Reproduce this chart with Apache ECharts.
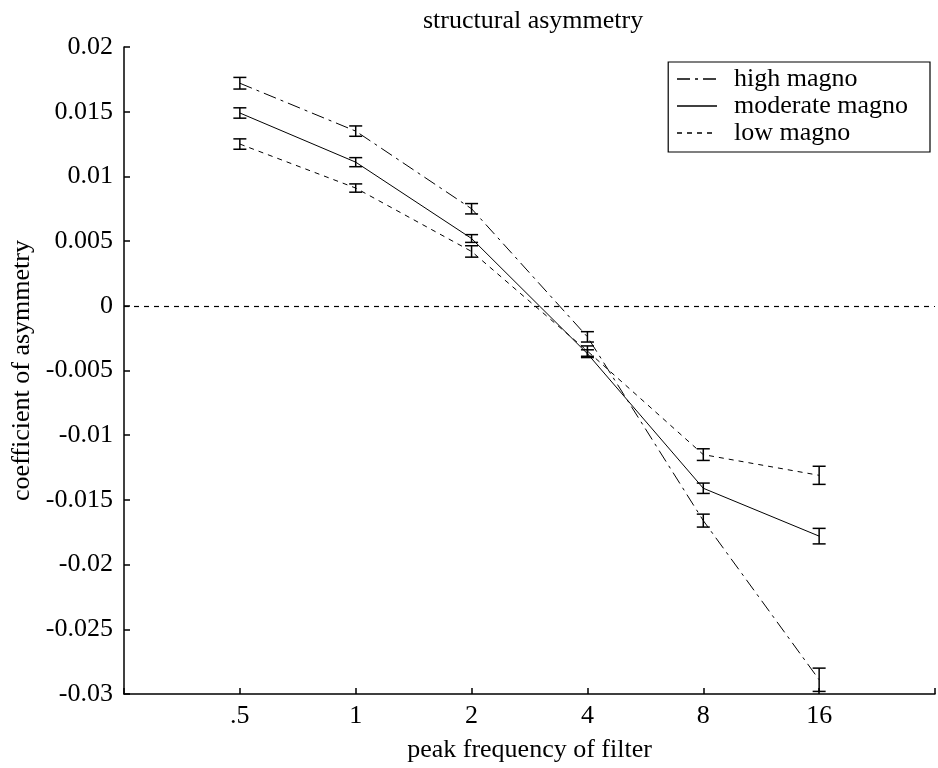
<!DOCTYPE html>
<html><head><meta charset="utf-8">
<script src="https://cdn.jsdelivr.net/npm/echarts@6/dist/echarts.min.js"></script>
<style>html,body{margin:0;padding:0;background:#fff}#c{width:938px;height:768px}</style>
</head><body><div id="c"></div>
<script>
const categories = ['.5', '1', '2', '4', '8', '16'];
const seriesNames = ['high magno', 'moderate magno', 'low magno'];
const highMean = [0.0172, 0.0135, 0.0075, -0.0024, -0.0166, -0.0289];
const highErr  = [0.00045, 0.0004, 0.0004, 0.0004, 0.0005, 0.0009];
const modMean  = [0.0149, 0.0111, 0.0052, -0.0037, -0.0141, -0.0178];
const modErr   = [0.0004, 0.00035, 0.0003, 0.0003, 0.0004, 0.0006];
const lowMean  = [0.0125, 0.0091, 0.0042, -0.0035, -0.0115, -0.0131];
const lowErr   = [0.0004, 0.00032, 0.00044, 0.0004, 0.00045, 0.0007];

const FONT = 'Liberation Serif';
const means = [highMean, modMean, lowMean];
const errs = [highErr, modErr, lowErr];
const dashes = [[13, 5, 3, 5], 'solid', [5, 5]];

function errRender(params, api) {
  const x = api.value(0), m = api.value(1), e = api.value(2);
  const t = api.coord([x, m + e]), b = api.coord([x, m - e]);
  const hw = 6.5;
  const st = {stroke: '#000', lineWidth: 1.5};
  return {type: 'group', children: [
    {type: 'line', shape: {x1: t[0], y1: t[1], x2: b[0], y2: b[1]}, style: st},
    {type: 'line', shape: {x1: t[0] - hw, y1: t[1], x2: t[0] + hw, y2: t[1]}, style: st},
    {type: 'line', shape: {x1: b[0] - hw, y1: b[1], x2: b[0] + hw, y2: b[1]}, style: st}
  ]};
}

const series = [];
seriesNames.forEach((name, k) => {
  const s = {
    name: name, type: 'line', symbol: 'none', silent: true,
    data: means[k].map((v, i) => [i + 1, v]),
    lineStyle: {color: '#000', width: 1, type: dashes[k]},
    itemStyle: {color: '#000'},
    z: 3
  };
  if (k === 1) {
    s.markLine = {silent: true, symbol: ['none', 'none'], label: {show: false},
      lineStyle: {color: '#000', width: 1.2, type: [5, 5]},
      data: [{yAxis: 0}]};
  }
  series.push(s);
});
seriesNames.forEach((name, k) => {
  series.push({
    name: name + ' err', type: 'custom', silent: true, renderItem: errRender,
    data: means[k].map((v, i) => [i + 1, v, errs[k][i]]), z: 4
  });
});

const chart = echarts.init(document.getElementById('c'));
chart.setOption({
  animation: false,
  backgroundColor: '#fff',
  title: {text: 'structural asymmetry', left: 418, top: 3,
    textStyle: {fontFamily: FONT, fontSize: 26, fontWeight: 'normal', color: '#000'}},
  legend: {
    data: seriesNames, orient: 'vertical', right: 8, top: 62,
    borderColor: '#000', borderWidth: 1.2, borderRadius: 0, backgroundColor: '#fff',
    padding: [4, 22, 6, 8], itemGap: 1, itemWidth: 40, itemHeight: 14,
    itemStyle: {opacity: 0, borderWidth: 0},
    lineStyle: {color: '#000', width: 1.6, opacity: 1},
    textStyle: {fontFamily: FONT, fontSize: 26, color: '#000', padding: [0, 0, 0, 12]}
  },
  grid: {left: 124, top: 47, width: 819, bottom: 72, containLabel: false},
  xAxis: {
    type: 'value', min: 0, max: 7, interval: 1,
    name: 'peak frequency of filter', nameLocation: 'middle', nameGap: 43,
    nameTextStyle: {fontFamily: FONT, fontSize: 26, color: '#000'},
    axisLine: {show: true, onZero: false, lineStyle: {color: '#000', width: 1.5}},
    axisTick: {show: true, inside: true, length: 6, lineStyle: {color: '#000', width: 1.5}},
    axisLabel: {fontFamily: FONT, fontSize: 26, color: '#000', margin: 9,
      formatter: v => (v >= 1 && v <= categories.length) ? categories[v - 1] : ''},
    splitLine: {show: false}
  },
  yAxis: {
    type: 'value', min: -0.03, max: 0.02, interval: 0.005,
    name: 'coefficient of asymmetry', nameLocation: 'middle', nameGap: 84,
    nameTextStyle: {fontFamily: FONT, fontSize: 26, color: '#000'},
    axisLine: {show: true, onZero: false, lineStyle: {color: '#000', width: 1.5}},
    axisTick: {show: true, inside: true, length: 6, lineStyle: {color: '#000', width: 1.5}},
    axisLabel: {fontFamily: FONT, fontSize: 26, color: '#000', margin: 11,
      formatter: v => String(Math.round(v * 1000) / 1000)},
    splitLine: {show: false}
  },
  series: series
});
</script></body></html>
